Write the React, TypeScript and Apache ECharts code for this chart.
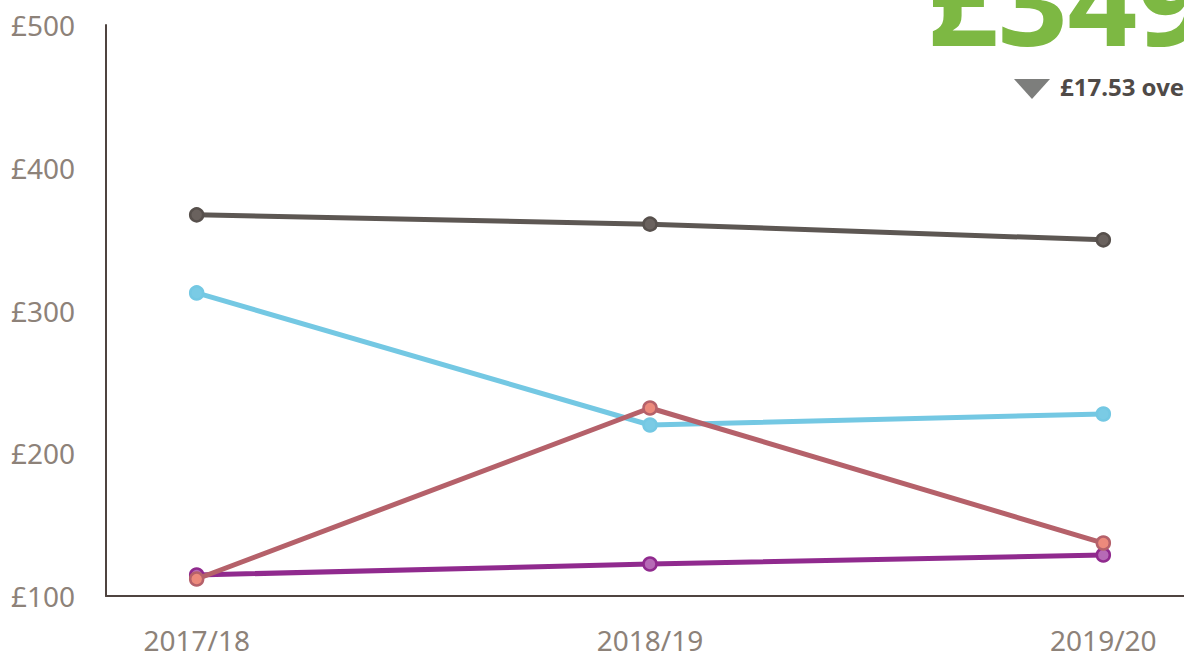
import React, { useEffect, useRef } from "react";
import * as echarts from "echarts";

const categories = ["2017/18", "2018/19", "2019/20"];
const greySeries = [367.0, 360.5, 349.5];
const blueSeries = [312.3, 219.8, 227.5];
const redSeries = [111.9, 231.7, 137.1];
const purpleSeries = [114.7, 122.4, 128.7];
const headline = "£349";
const changeText = "£17.53 over";

const toPts = (arr: number[]) => arr.map((v, i) => [i, v]);

export default function App() {
  const ref = useRef<HTMLDivElement>(null);
  useEffect(() => {
    if (!ref.current) return;
    const chart = echarts.init(ref.current, null, { renderer: "svg" });
    const font = "'Noto Sans', 'DejaVu Sans', sans-serif";
    const mk = (arr: number[], line: string, fill: string, border: string, z: number) => ({
      type: "line",
      data: toPts(arr),
      symbol: "circle",
      symbolSize: 13,
      z,
      lineStyle: { color: line, width: 5 },
      itemStyle: { color: fill, borderColor: border, borderWidth: 2.5 },
    });
    chart.setOption({
      animation: false,
      grid: {
        left: 106,
        top: 25,
        width: 1088,
        height: 571,
        containLabel: false,
        outerBoundsMode: "none",
      },
      xAxis: {
        type: "value",
        min: -0.2,
        max: 2.2,
        axisLine: { show: true, onZero: false, lineStyle: { color: "#4f4440", width: 2 } },
        axisTick: { show: false },
        splitLine: { show: false },
        axisLabel: {
          customValues: [0, 1, 2],
          formatter: (v: number) => categories[Math.round(v)] ?? "",
          fontSize: 28,
          color: "#8d8279",
          fontFamily: font,
          margin: 30,
        },
      },
      yAxis: {
        type: "value",
        min: 100,
        max: 500,
        interval: 100,
        axisLine: { show: true, onZero: false, lineStyle: { color: "#4f4440", width: 2 } },
        axisTick: { show: false },
        splitLine: { show: false },
        axisLabel: {
          formatter: "£{value}",
          fontSize: 28,
          color: "#8d8279",
          fontFamily: font,
          margin: 31,
        },
      },
      series: [
        mk(greySeries, "#5d5753", "#6a625e", "#57504c", 4),
        mk(blueSeries, "#74c8e3", "#7acbe5", "#74c8e3", 3),
        mk(purpleSeries, "#902a8e", "#b66ab6", "#902a8e", 2),
        mk(redSeries, "#b5616a", "#ec8a7c", "#b5616a", 5),
      ],
      graphic: [
        {
          type: "text",
          left: 928,
          top: -62,
          style: {
            text: headline,
            font: `bold 122px ${font}`,
            lineHeight: 100,
            fill: "#7db843",
          },
        },
        {
          type: "polygon",
          shape: { points: [[1014, 79], [1050, 79], [1032, 99]] },
          style: { fill: "#7d7e7c" },
        },
        {
          type: "text",
          left: 1060,
          top: 74,
          style: {
            text: changeText,
            font: `bold 24px ${font}`,
            fill: "#4f4a47",
          },
        },
      ],
    });
    return () => chart.dispose();
  }, []);
  return (
    <div
      ref={ref}
      style={{ position: "fixed", left: 0, top: 0, width: 1184, height: 659, background: "#fff" }}
    />
  );
}
